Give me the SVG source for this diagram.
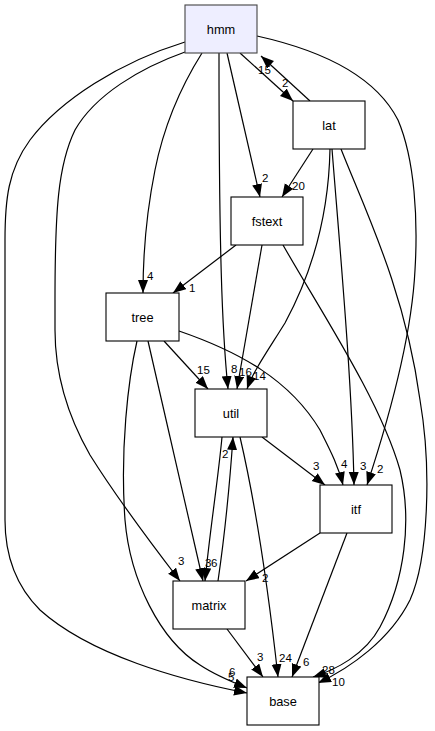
<svg xmlns="http://www.w3.org/2000/svg" width="435" height="731" viewBox="0 0 435 731">
<style>
.n rect{fill:#fff;stroke:#000;stroke-width:1.1}
#hmm rect{fill:#eeeeff;stroke:#444}
.n text{font-family:"Liberation Sans",Arial,sans-serif;font-size:12.8px;text-anchor:middle;fill:#000}
.e path{fill:none;stroke:#000;stroke-width:1.2;marker-end:url(#ah)}
.l text{font-family:"Liberation Sans",Arial,sans-serif;font-size:11.5px;fill:#000}
</style>
<defs>
<marker id="ah" markerUnits="userSpaceOnUse" markerWidth="14" markerHeight="11" refX="13" refY="5" orient="auto">
<path d="M0,0 L13,5 L0,10 z" fill="#000"/>
</marker>
</defs>
<rect width="435" height="731" fill="#fff"/>
<g id="edges" class="e">
<path d="M185,42 C120,62 60,100 30,140 C8,170 5,200 5,240 L5,520 C5,560 20,590 40,610 C90,655 180,680 247,693"/>
<path d="M185,52 C140,68 95,95 75,130 C58,165 55,210 55,300 L55,330 C55,380 70,420 90,455 C115,495 160,555 180,581"/>
<path d="M202,53 C185,80 165,120 155,170 C147,210 143,250 143,293"/>
<path d="M219,53 C219,250 222,330 228,389"/>
<path d="M227,53 L260,197"/>
<path d="M240,53 L293,101"/>
<path d="M310,101 L261,56"/>
<path d="M257,36 C320,50 375,75 398,120 C415,160 418,220 415,270 C412,330 395,400 367,485"/>
<path d="M313,149 L282,197"/>
<path d="M330,149 C329,200 318,262 285,323 C265,355 253,372 247,389"/>
<path d="M332,149 C340,250 352,380 354,485"/>
<path d="M341,149 C365,210 405,290 420,400 C432,470 428,560 410,600 C390,640 350,668 318,683"/>
<path d="M236,245 L173,293"/>
<path d="M262,245 L237,389"/>
<path d="M283,245 C320,310 380,400 400,470 C412,520 405,580 380,627 C365,655 335,670 313,677"/>
<path d="M164,341 L208,389"/>
<path d="M179,331 C240,352 290,380 320,430 C330,450 338,465 343,485"/>
<path d="M148,341 L203,581"/>
<path d="M137,341 C128,380 120,450 125,520 C130,580 160,640 200,665 C215,675 232,682 247,688"/>
<path d="M222,437 C218,480 210,530 205,581"/>
<path d="M218,581 C224,540 230,480 233,437"/>
<path d="M262,437 L325,485"/>
<path d="M240,437 C250,480 265,560 278,677"/>
<path d="M320,533 L246,581"/>
<path d="M347,533 L292,677"/>
<path d="M227,629 L263,677"/>
</g>
<g id="labels" class="l">
<text x="258" y="74">15</text>
<text x="282" y="87">2</text>
<text x="262" y="182">2</text>
<text x="292" y="190">20</text>
<text x="147" y="280">4</text>
<text x="189" y="292">1</text>
<text x="197" y="374">15</text>
<text x="231" y="373">8</text>
<text x="239" y="376">16</text>
<text x="253" y="380">14</text>
<text x="222" y="458">2</text>
<text x="313" y="470">3</text>
<text x="341" y="468">4</text>
<text x="360" y="470">3</text>
<text x="377" y="473">2</text>
<text x="178" y="565">3</text>
<text x="205" y="567">3</text>
<text x="211" y="567">6</text>
<text x="262" y="582">2</text>
<text x="257" y="661">3</text>
<text x="279" y="662">24</text>
<text x="303" y="666">6</text>
<text x="322" y="674">28</text>
<text x="332" y="686">10</text>
<text x="229" y="676">6</text>
<text x="228" y="681">5</text>
</g>
<g id="hmm" class="n"><rect x="185" y="5" width="72" height="48"/><text x="221" y="33.5">hmm</text></g>
<g id="lat" class="n"><rect x="293" y="101" width="72" height="48"/><text x="329" y="129.5">lat</text></g>
<g id="fstext" class="n"><rect x="231" y="197" width="72" height="48"/><text x="267" y="225.5">fstext</text></g>
<g id="tree" class="n"><rect x="106" y="293" width="73" height="48"/><text x="142.5" y="321.5">tree</text></g>
<g id="util" class="n"><rect x="195" y="389" width="72" height="48"/><text x="231" y="417.5">util</text></g>
<g id="itf" class="n"><rect x="320" y="485" width="72" height="48"/><text x="356" y="513.5">itf</text></g>
<g id="matrix" class="n"><rect x="173" y="581" width="72" height="48"/><text x="209" y="609.5">matrix</text></g>
<g id="base" class="n"><rect x="247" y="677" width="72" height="48"/><text x="283" y="705.5">base</text></g>
</svg>
